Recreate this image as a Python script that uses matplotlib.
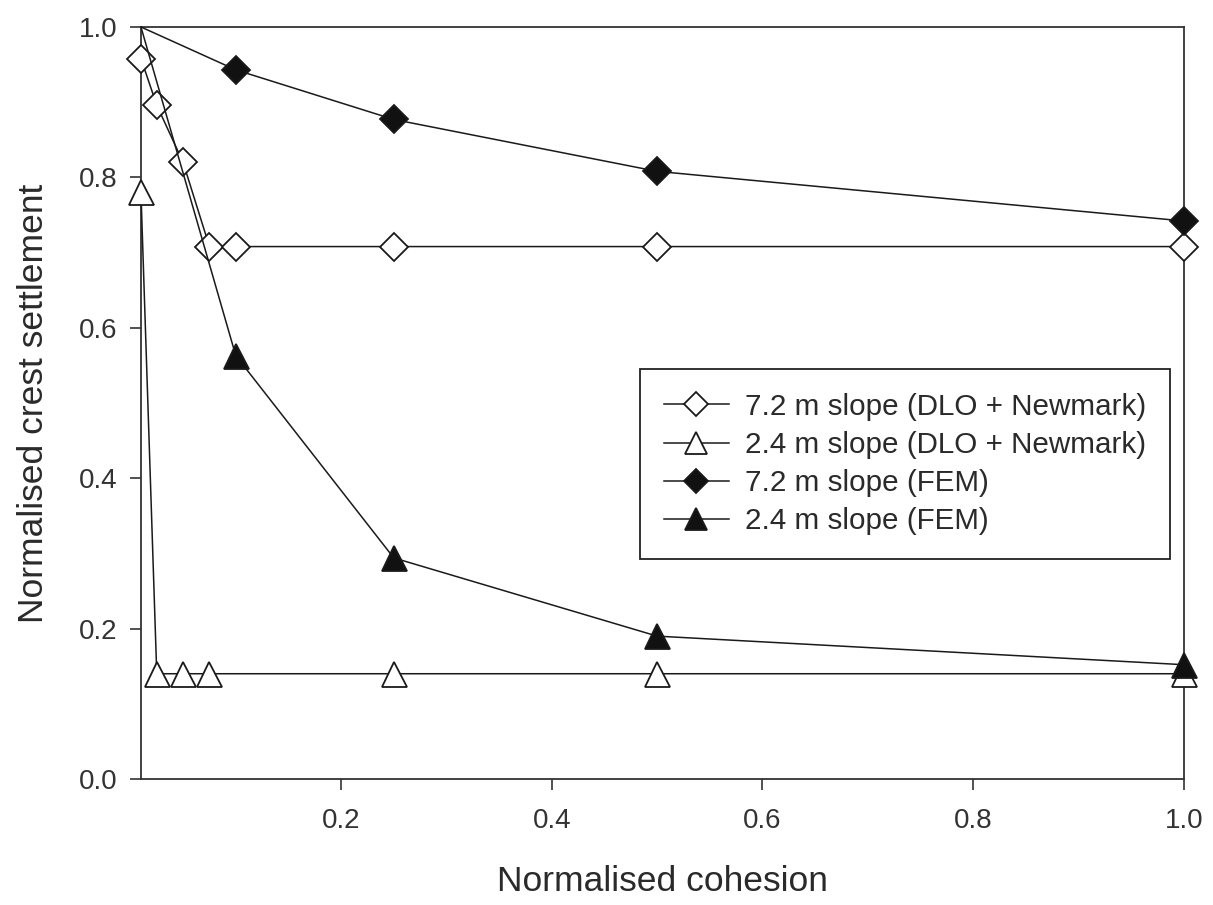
"""Normalised crest settlement against normalised cohesion."""

import matplotlib

matplotlib.use("Agg")
import matplotlib.pyplot as plt

plt.rcParams["font.family"] = ["Liberation Sans", "DejaVu Sans"]

# 7.2 m slope, DLO + Newmark (open diamonds)
x_dlo_72 = [0.01, 0.025, 0.05, 0.075, 0.1, 0.25, 0.5, 1.0]
y_dlo_72 = [0.958, 0.896, 0.82, 0.708, 0.708, 0.708, 0.708, 0.708]

# 2.4 m slope, DLO + Newmark (open triangles)
x_dlo_24 = [0.01, 0.025, 0.05, 0.075, 0.25, 0.5, 1.0]
y_dlo_24 = [0.78, 0.14, 0.14, 0.14, 0.14, 0.14, 0.14]

# FEM series start from the unmarked reference point at the top-left corner
x_fem_72 = [0.01, 0.1, 0.25, 0.5, 1.0]
y_fem_72 = [1.0, 0.943, 0.877, 0.808, 0.742]

x_fem_24 = [0.01, 0.1, 0.25, 0.5, 1.0]
y_fem_24 = [1.0, 0.563, 0.294, 0.19, 0.152]

labels = [
    "7.2 m slope (DLO + Newmark)",
    "2.4 m slope (DLO + Newmark)",
    "7.2 m slope (FEM)",
    "2.4 m slope (FEM)",
]

x_ticks = [0.2, 0.4, 0.6, 0.8, 1.0]
y_ticks = [0.0, 0.2, 0.4, 0.6, 0.8, 1.0]

fig = plt.figure(figsize=(12.13, 9.05), dpi=100)
ax = fig.add_axes([0.1162, 0.1392, 0.8598, 0.831])

line_kw = dict(color="#1a1a1a", linewidth=1.1, markeredgecolor="#1a1a1a",
               markeredgewidth=1.3, clip_on=False)

ax.plot(x_dlo_72, y_dlo_72, marker="D", markersize=14.3, markerfacecolor="white",
        label=labels[0], zorder=3, **line_kw)
ax.plot(x_dlo_24, y_dlo_24, marker="^", markersize=18, markerfacecolor="white",
        label=labels[1], zorder=3, **line_kw)
ax.plot(x_fem_72, y_fem_72, marker="D", markersize=14.3, markerfacecolor="#111111",
        markevery=slice(1, None), label=labels[2], zorder=4, **line_kw)
ax.plot(x_fem_24, y_fem_24, marker="^", markersize=18, markerfacecolor="#111111",
        markevery=slice(1, None), label=labels[3], zorder=4, **line_kw)

ax.set_xlim(0.01, 1.0)
ax.set_ylim(0.0, 1.0)
ax.set_xticks(x_ticks)
ax.set_yticks(y_ticks)
ax.set_xticklabels([f"{t:.1f}" for t in x_ticks])
ax.set_yticklabels([f"{t:.1f}" for t in y_ticks])

for spine in ax.spines.values():
    spine.set_linewidth(1.3)
    spine.set_color("#333333")
    spine.set_zorder(2)

ax.tick_params(direction="out", length=8, width=1.2, color="#333333",
               labelsize=20, labelcolor="#333333")
ax.tick_params(axis="x", pad=13)
ax.tick_params(axis="y", pad=9)

ax.set_xlabel("Normalised cohesion", fontsize=25.5, color="#2a2a2a", labelpad=22)
ax.set_ylabel("Normalised crest settlement", fontsize=25.5, color="#2a2a2a", labelpad=21)

leg = ax.legend(loc="upper left", bbox_to_anchor=(0.4784, 0.5452), fontsize=21.3,
                frameon=True, fancybox=False, edgecolor="#222222", framealpha=1,
                handlelength=2.2, borderpad=0.8, labelspacing=0.345, handletextpad=0.54,
                borderaxespad=0, markerscale=0.85)
leg.get_frame().set_linewidth(1.3)
for text in leg.get_texts():
    text.set_color("#2a2a2a")

fig.savefig("out.png", dpi=100)
